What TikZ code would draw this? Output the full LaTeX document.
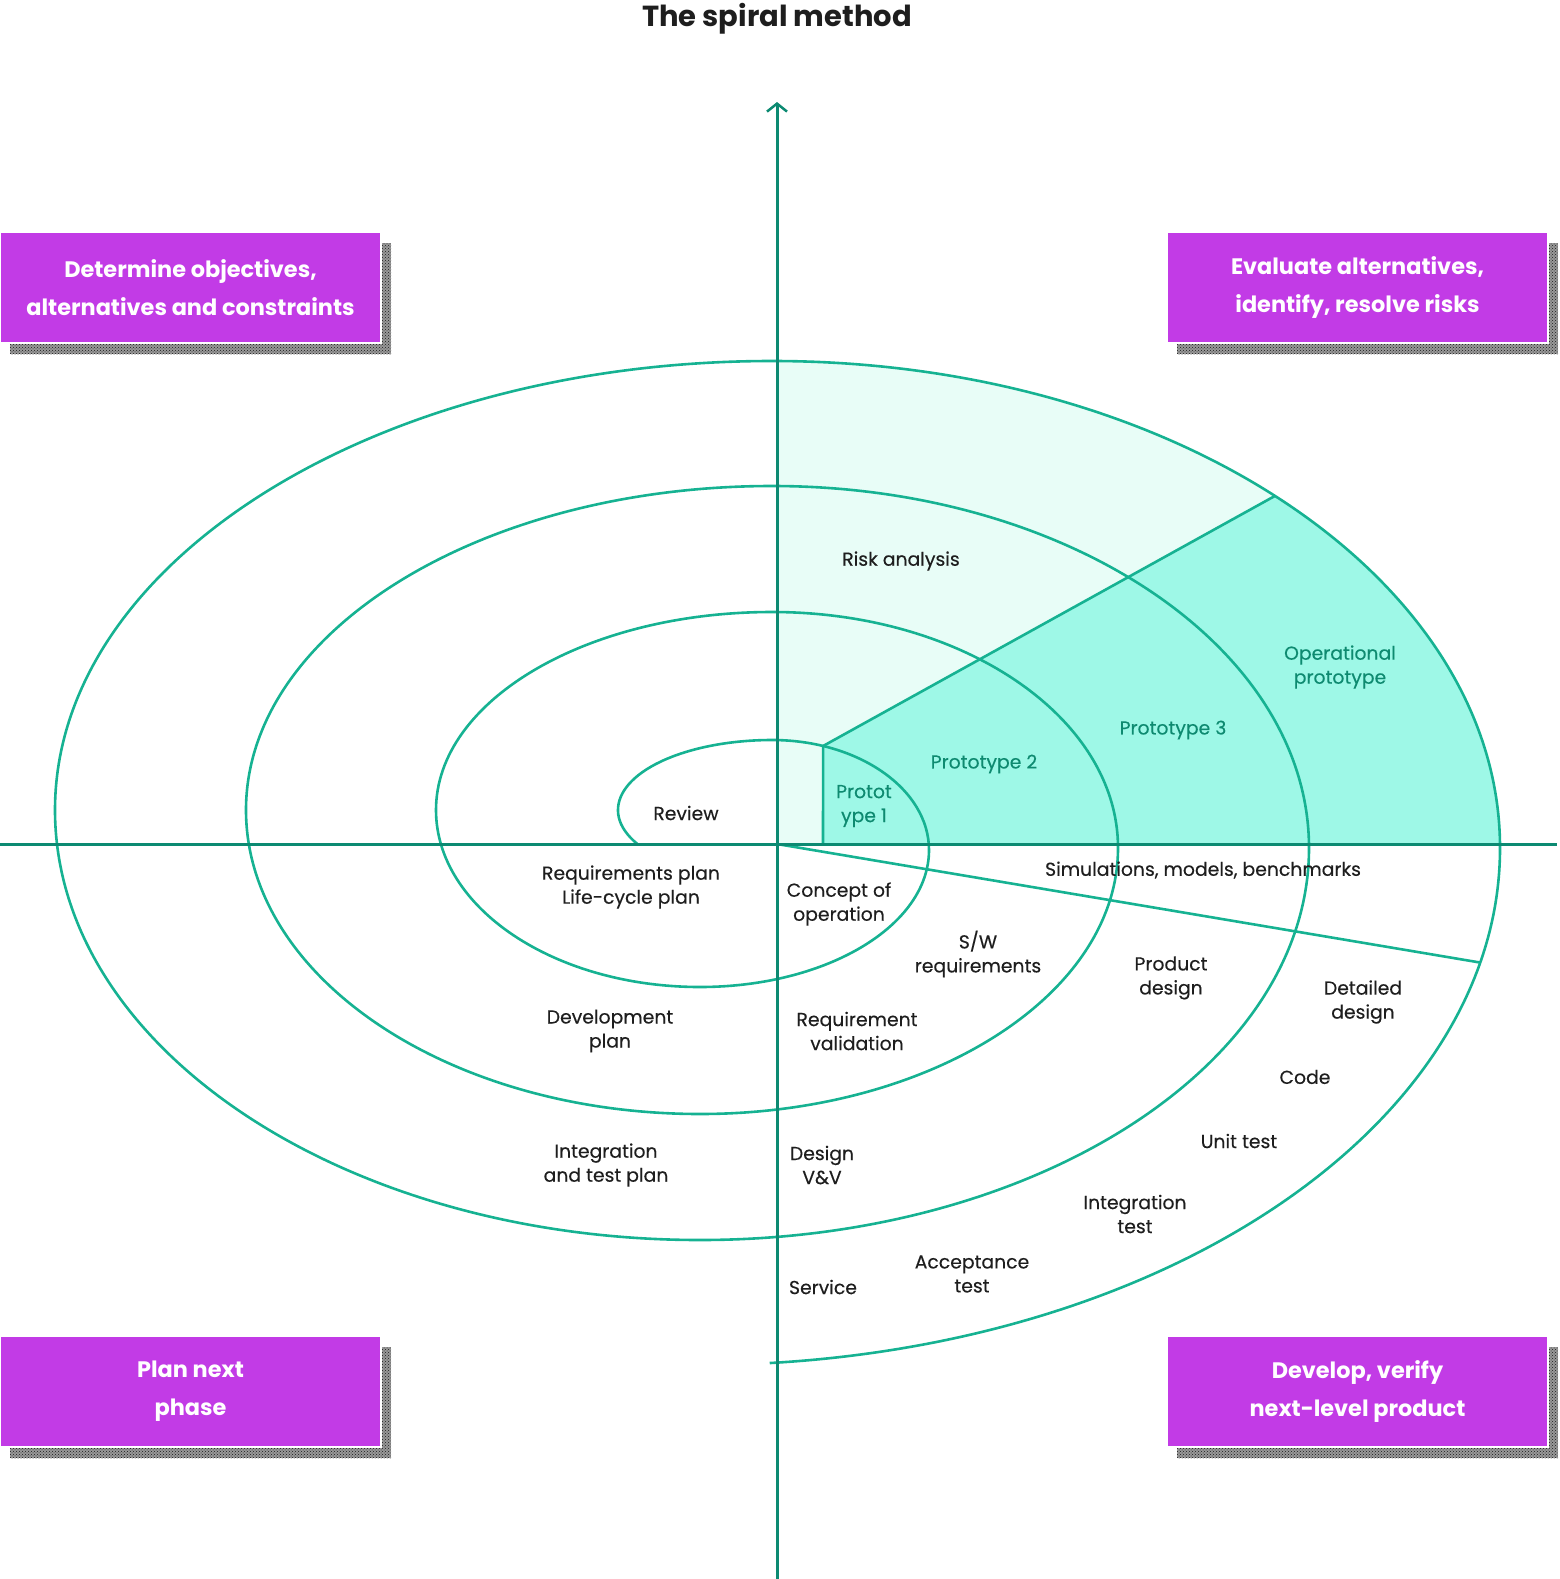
\documentclass[tikz,border=0pt]{standalone}
\usepackage{fontspec}
\setmainfont{Poppins}
\newfontfamily\labelfont{Poppins}[FakeBold=0.3]
\usetikzlibrary{arrows.meta,calc,patterns}

\definecolor{spiralgreen}{RGB}{22,178,146}
\definecolor{axisgreen}{RGB}{12,138,114}
\definecolor{riskfill}{RGB}{232,253,247}
\definecolor{protofill}{RGB}{158,248,231}
\definecolor{phasepurple}{RGB}{194,59,230}
\definecolor{protogreen}{RGB}{14,138,112}
\definecolor{labelgray}{RGB}{30,30,30}

\begin{document}
\begin{tikzpicture}[
    x=1pt, y=1pt,
    axis/.style={draw=axisgreen, line width=3pt},
    spiral/.style={draw=spiralgreen, line width=2.6pt},
    task/.style={text=labelgray, align=center, inner sep=0pt,
        font=\labelfont\fontsize{18.8}{24}\selectfont},
    proto/.style={task, text=protogreen},
    phase/.style={fill=phasepurple, draw=white, line width=2pt, text=white,
        align=center, inner sep=0pt, minimum width=381pt, minimum height=111pt,
        font=\bfseries\fontsize{22.4}{38}\selectfont,
        preaction={fill=black!40, transform canvas={shift={(10pt,-11pt)}}},
        preaction={pattern=crosshatch dots, pattern color=black!90,
            transform canvas={shift={(10pt,-11pt)}}}},
]
\useasboundingbox (0,0) rectangle (1560,-1579);

% axes and cut points
\coordinate (origin) at (777,-844);
\coordinate (axis-top) at (777,-102);
\coordinate (axis-bottom) at (777,-1579);
\coordinate (axis-left) at (0,-844);
\coordinate (axis-right) at (1557,-844);
\coordinate (proto-foot) at (823,-844);
\coordinate (proto-corner) at ($(772,-850)+(71:157pt and 110pt)$);
\coordinate (proto-edge) at ($(772,-848)+(46.3:728pt and 487pt)$);
\coordinate (sim-edge) at ($(700,-848)+(-12.8:800pt and 517pt)$);

% quadrant fills
\fill[riskfill] (origin) -- ($(772,-848)+(89.6:728pt and 487pt)$)
    arc[start angle=89.6, end angle=0, x radius=728pt, y radius=487pt]
    -- (1500,-844) -- cycle;
\fill[protofill] (proto-foot) -- (proto-corner) -- (proto-edge)
    arc[start angle=46.3, end angle=0, x radius=728pt, y radius=487pt]
    -- (1500,-844) -- cycle;

% the spiral
\draw[spiral] ($(772,-810)+(209:154pt and 70pt)$)
    arc[start angle=209, end angle=90, x radius=154pt, y radius=70pt]
    arc[start angle=90, end angle=0, x radius=157pt, y radius=110pt]
    arc[start angle=0, end angle=-90, x radius=229pt, y radius=137pt]
    arc[start angle=270, end angle=180, x radius=264pt, y radius=177pt]
    arc[start angle=180, end angle=90, x radius=336pt, y radius=198pt]
    arc[start angle=90, end angle=0, x radius=346pt, y radius=236pt]
    arc[start angle=0, end angle=-90, x radius=418pt, y radius=266pt]
    arc[start angle=270, end angle=180, x radius=454pt, y radius=304pt]
    arc[start angle=180, end angle=90, x radius=526pt, y radius=324pt]
    arc[start angle=90, end angle=0, x radius=537pt, y radius=362pt]
    arc[start angle=0, end angle=-90, x radius=609pt, y radius=392pt]
    arc[start angle=270, end angle=180, x radius=645pt, y radius=430pt]
    arc[start angle=180, end angle=90, x radius=717pt, y radius=449pt]
    arc[start angle=90, end angle=0, x radius=728pt, y radius=487pt]
    arc[start angle=0, end angle=-85, x radius=800pt, y radius=517pt];

\draw[spiral] (proto-foot) -- (proto-corner) -- (proto-edge);
\draw[spiral] (origin) -- (sim-edge);

\draw[axis] (axis-left) -- (axis-right);
\draw[axis, -{Straight Barb[length=8pt, width=20pt, line width=2.5pt]}]
    (axis-bottom) -- (axis-top);

\node[font=\bfseries\fontsize{29}{32}\selectfont, text=labelgray] (title)
    at (777,-19) {The spiral method};

\node[phase] (objectives) at (190.5,-287.5) {Determine objectives,\\alternatives and constraints};
\node[phase] (risks) at (1357.5,-287.5) {Evaluate alternatives,\\identify, resolve risks};
\node[phase] (planning) at (190.5,-1391.5) {Plan next\\phase};
\node[phase] (develop) at (1357.5,-1391.5) {Develop, verify\\next-level product};

\node[task] (risk) at (901,-561) {Risk analysis};
\node[proto] (opproto) at (1340,-667) {Operational\\prototype};
\node[proto] (proto3) at (1173,-730) {Prototype 3};
\node[proto] (proto2) at (984,-764) {Prototype 2};
\node[proto] (proto1) at (864,-806) {Protot\\ype 1};
\node[task] (review) at (686,-813) {Review};
\node[task] (sim) at (1203,-870) {Simulations, models, benchmarks};
\node[task] (reqplan) at (631,-887) {Requirements plan\\Life-cycle plan};
\node[task] (concept) at (839,-904) {Concept of\\operation};
\node[task] (swreq) at (978,-954) {S/W\\requirements};
\node[task] (prodesign) at (1171,-978) {Product\\design};
\node[task] (detdesign) at (1363,-1002) {Detailed\\design};
\node[task] (devplan) at (610,-1031) {Development\\plan};
\node[task] (reqval) at (857,-1031) {Requirement\\validation};
\node[task] (code) at (1305,-1077) {Code};
\node[task] (unittest) at (1239,-1141) {Unit test};
\node[task] (itplan) at (606,-1165) {Integration\\and test plan};
\node[task] (designvv) at (822,-1165) {Design\\V\&V};
\node[task] (inttest) at (1135,-1214) {Integration\\test};
\node[task] (acctest) at (972,-1274) {Acceptance\\test};
\node[task] (service) at (823,-1287) {Service};
\end{tikzpicture}
\end{document}
